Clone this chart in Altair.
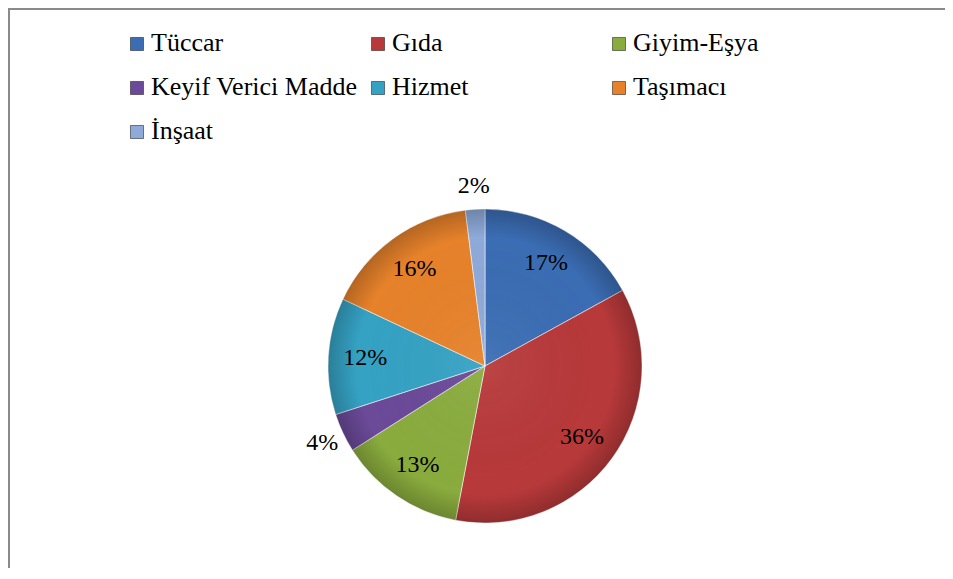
import altair as alt
import pandas as pd

categories = ["Tüccar", "Gıda", "Giyim-Eşya", "Keyif Verici Madde", "Hizmet", "Taşımacı", "İnşaat"]
values = [17, 36, 13, 4, 12, 16, 2]
colors = ["#3B6DB4", "#B8393A", "#8AAC3E", "#6B4A99", "#35A2C4", "#E7822B", "#8EAAD9"]

df = pd.DataFrame({
    "kategori": categories,
    "deger": values,
    "sira": list(range(len(categories))),
})
df["etiket"] = [f"{v}%" for v in values]

FONT = "Liberation Serif"
CX, CY, R = 477, 358, 157
color_scale = alt.Scale(domain=categories, range=colors)

base = alt.Chart(df).encode(
    theta=alt.Theta("deger:Q", stack=True),
    order=alt.Order("sira:Q"),
    x=alt.value(CX),
    y=alt.value(CY),
)

pie = base.mark_arc(radius=R, stroke="#ffffff", strokeWidth=1, strokeOpacity=0.55).encode(
    color=alt.Color("kategori:N", scale=color_scale, legend=None),
)

inner = base.mark_text(radius=120, font=FONT, fontSize=24, color="#000000").encode(
    text=alt.condition(alt.datum.deger >= 10, alt.Text("etiket:N"), alt.value(""))
)
outer = base.mark_text(radius=180, font=FONT, fontSize=24, color="#000000").encode(
    text=alt.condition(alt.datum.deger < 10, alt.Text("etiket:N"), alt.value(""))
)

shade = alt.Chart(alt.Data(values=[{"a": 1}])).mark_arc(
    theta=0,
    theta2=6.283185,
    radius=R,
    fill=alt.Gradient(
        gradient="radial",
        stops=[
            alt.GradientStop(offset=0, color="rgba(255,255,255,0.06)"),
            alt.GradientStop(offset=0.82, color="rgba(0,0,0,0)"),
            alt.GradientStop(offset=1, color="rgba(0,0,0,0.22)"),
        ],
    ),
).encode(x=alt.value(CX), y=alt.value(CY))

border = alt.Chart(alt.Data(values=[{"a": 1}])).mark_rect(
    fill=None, stroke="#8a8a8a", strokeWidth=2
).encode(x=alt.value(1), x2=alt.value(1200), y=alt.value(1), y2=alt.value(1200))

# legend laid out as a 3-column grid, row by row
leg = alt.Chart(df).transform_calculate(
    lx="129 + (datum.sira % 3) * 241",
    ly="36 + floor(datum.sira / 3) * 44",
    tx="datum.lx + 14",
    ty="datum.ly + 7",
)
leg_sym = leg.mark_square(size=170, stroke="#2a2a2a", strokeWidth=0.6, opacity=1).encode(
    x=alt.X("lx:Q", scale=None),
    y=alt.Y("ly:Q", scale=None),
    color=alt.Color("kategori:N", scale=color_scale, legend=None),
)
leg_txt = leg.mark_text(
    font=FONT, fontSize=26, color="#000000", align="left", baseline="alphabetic"
).encode(
    x=alt.X("tx:Q", scale=None),
    y=alt.Y("ty:Q", scale=None),
    text="kategori:N",
)

chart = alt.layer(border, pie, shade, inner, outer, leg_sym, leg_txt).properties(
    width=937,
    height=560,
    padding=0,
    autosize=alt.AutoSizeParams(type="none"),
).configure_view(stroke=None)

chart.save("out.html", embed_options={"renderer": "svg", "actions": False})
